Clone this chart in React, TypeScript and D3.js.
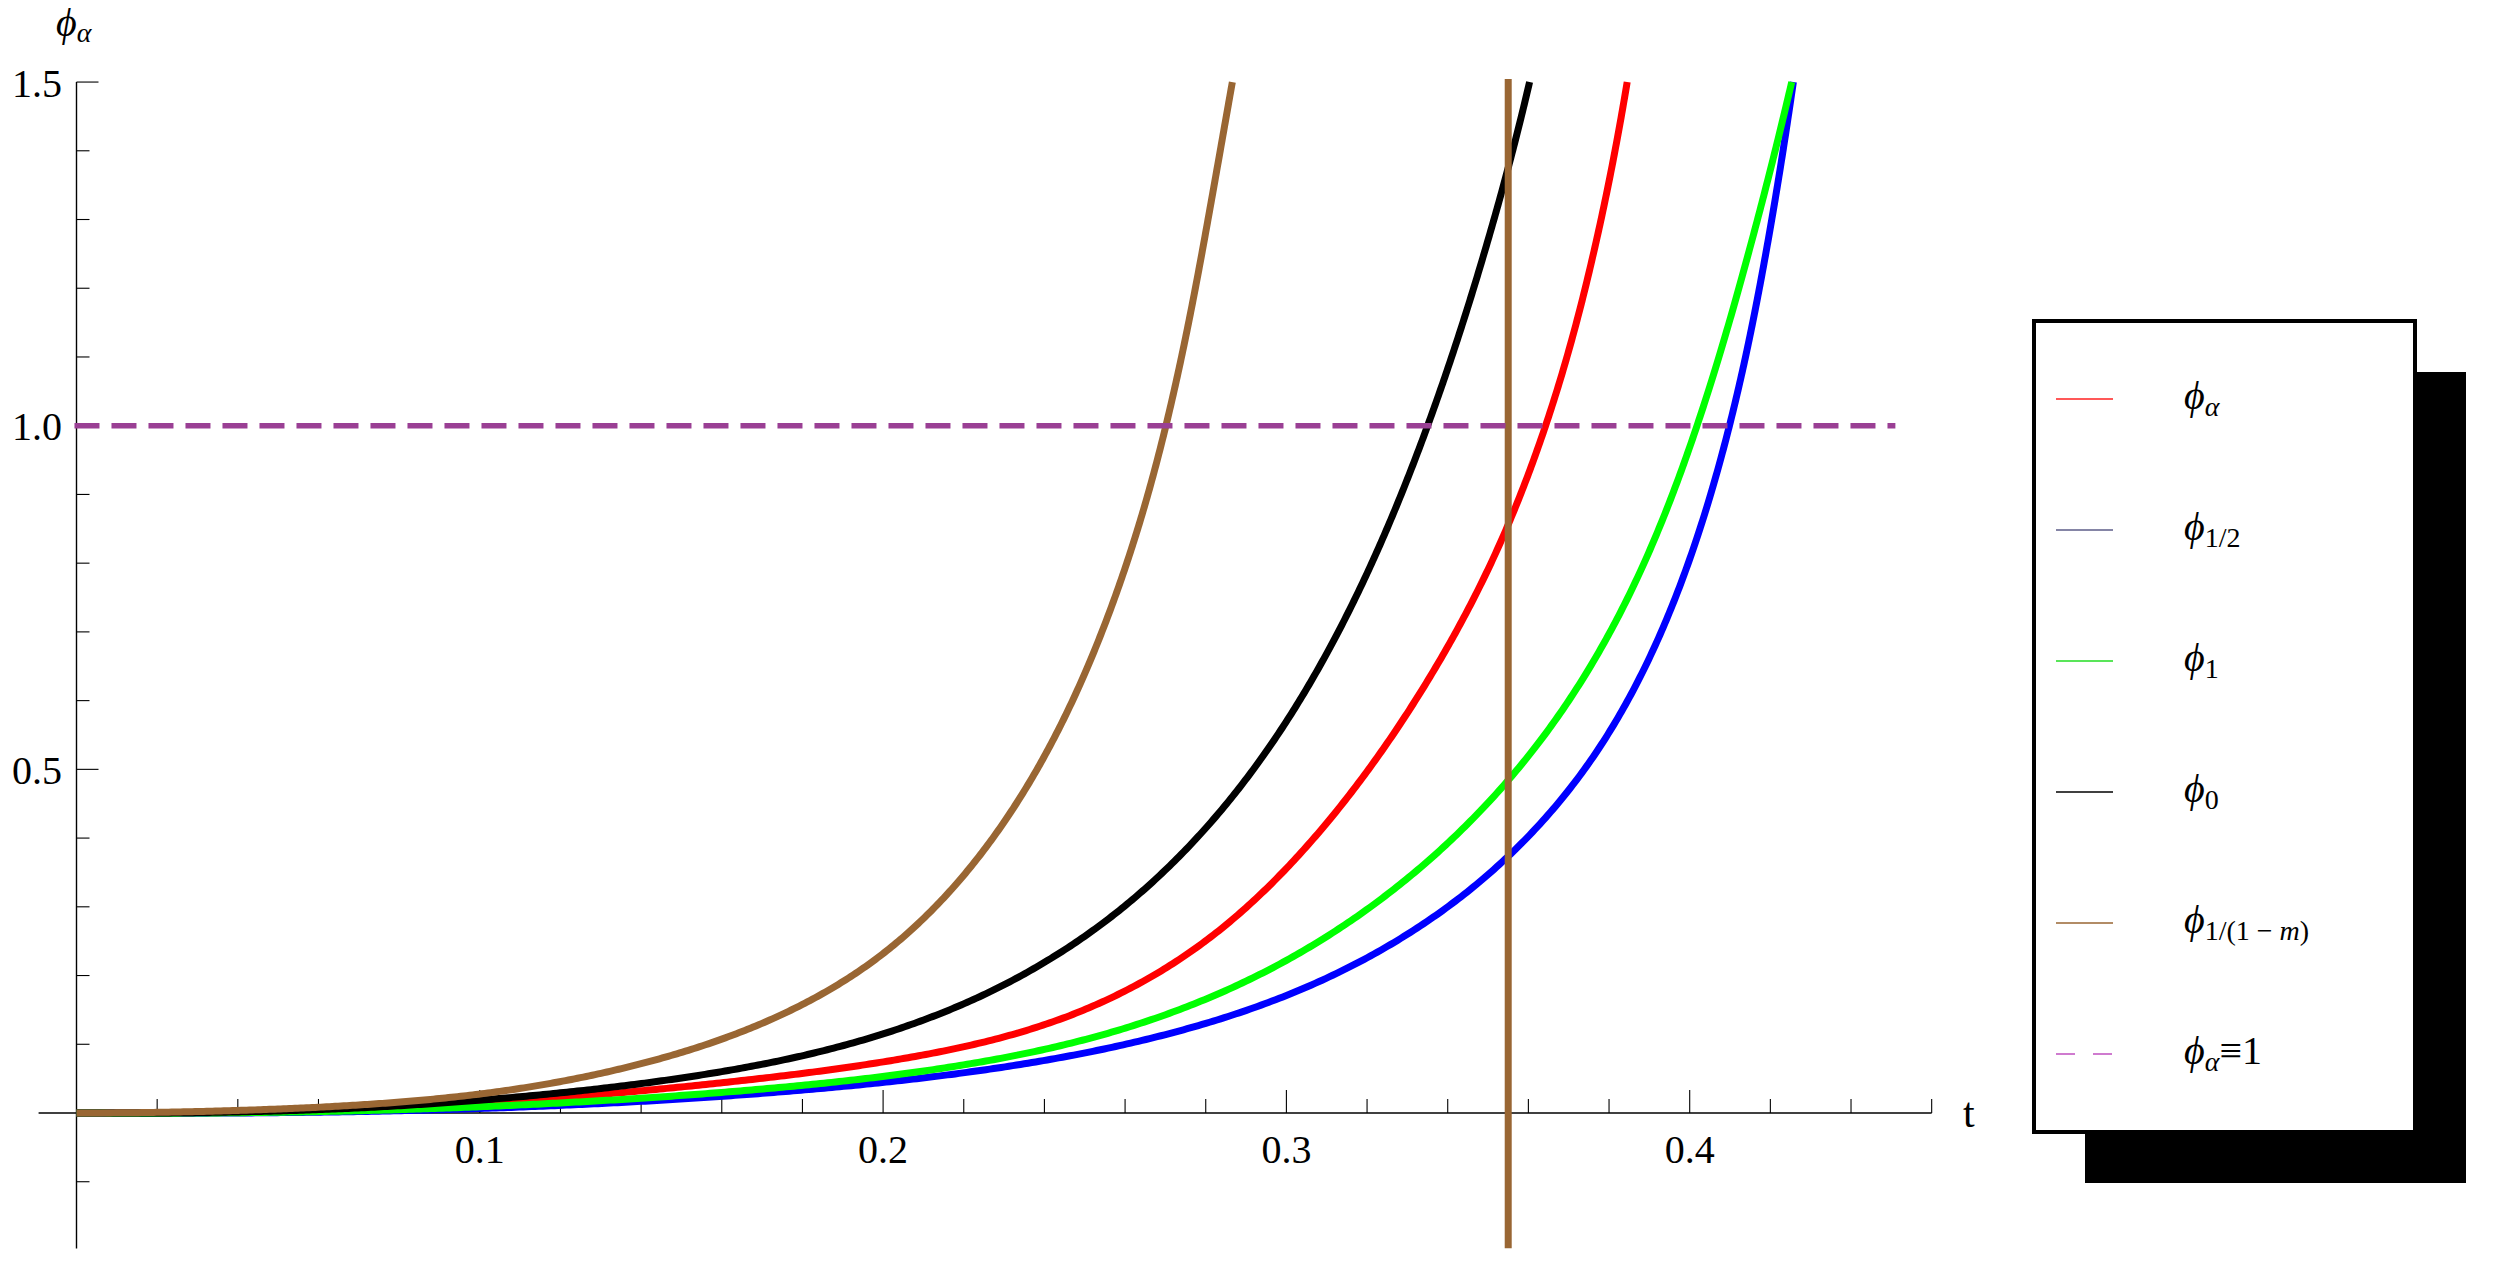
import React from 'react';
import * as d3 from 'd3';

// ---------- data ----------
// each point: [t, phi]
const phiAlphaPts: [number, number][] = [
  [0, 0], [0.02, 0.0003], [0.04, 0.0015], [0.06, 0.003], [0.08, 0.006], [0.105, 0.0165],
  [0.138, 0.031], [0.171, 0.0528], [0.204, 0.0819], [0.234, 0.1183], [0.2506, 0.1474],
  [0.2671, 0.1935], [0.2836, 0.2662], [0.3002, 0.3583], [0.3167, 0.4746], [0.334, 0.625],
  [0.3493, 0.775], [0.3597, 0.9207], [0.3642, 1.0], [0.3679, 1.066], [0.3746, 1.2116],
  [0.3798, 1.357], [0.3845, 1.5],
];
const phiHalfPts: [number, number][] = [
  [0, 0], [0.04, 0.0005], [0.08, 0.003], [0.105, 0.007], [0.138, 0.0165], [0.171, 0.0296],
  [0.204, 0.048], [0.234, 0.0698], [0.2506, 0.0892], [0.2671, 0.111], [0.2836, 0.1377],
  [0.3002, 0.1692], [0.3167, 0.2128], [0.3332, 0.2735], [0.3497, 0.3486], [0.3622, 0.4116],
  [0.3696, 0.46], [0.3786, 0.5377], [0.3878, 0.6395], [0.396, 0.746], [0.4063, 0.9207],
  [0.41, 1.0], [0.4125, 1.066], [0.4175, 1.2116], [0.4218, 1.357], [0.4257, 1.5],
];
const phiOnePts: [number, number][] = [
  [0, 0], [0.04, 0.001], [0.08, 0.004], [0.105, 0.0102], [0.138, 0.0213], [0.171, 0.0359],
  [0.204, 0.0577], [0.234, 0.0863], [0.2506, 0.1062], [0.2671, 0.1353], [0.2836, 0.1741],
  [0.3002, 0.2225], [0.3167, 0.2807], [0.3332, 0.3583], [0.3497, 0.4504], [0.3629, 0.5425],
  [0.3712, 0.6056], [0.379, 0.6832], [0.3855, 0.76], [0.397, 0.9207], [0.4018, 1.0],
  [0.4125, 1.2116], [0.4193, 1.357], [0.4253, 1.5],
];
const phiZeroPts: [number, number][] = [
  [0, 0], [0.02, 0.0005], [0.04, 0.002], [0.06, 0.0045], [0.08, 0.0095], [0.105, 0.021],
  [0.1217, 0.031], [0.138, 0.0426], [0.1548, 0.0556], [0.1713, 0.0725], [0.1878, 0.0944],
  [0.2043, 0.123], [0.2209, 0.1605], [0.2341, 0.1983], [0.2506, 0.2583], [0.2671, 0.3365],
  [0.2836, 0.4384], [0.3002, 0.5721], [0.3177, 0.7574], [0.3351, 1.0], [0.3468, 1.2075],
  [0.3541, 1.357], [0.3603, 1.5],
];
const phiMPts: [number, number][] = [
  [0, 0], [0.02, 0.001], [0.04, 0.004], [0.06, 0.009], [0.08, 0.016], [0.105, 0.0296],
  [0.1217, 0.048], [0.1382, 0.0698], [0.1548, 0.0989], [0.1713, 0.1353], [0.1878, 0.179],
  [0.2043, 0.2468], [0.2209, 0.356], [0.2341, 0.46], [0.2423, 0.5425], [0.2506, 0.649],
  [0.2578, 0.76], [0.2668, 0.9207], [0.2703, 1.0], [0.2727, 1.066], [0.2777, 1.2116],
  [0.2822, 1.357], [0.2866, 1.5],
];
const verticalT = 0.355;
const refLevel = 1.0;

const xMajorTicks = [0.1, 0.2, 0.3, 0.4];
const xTickLabels = ['0.1', '0.2', '0.3', '0.4'];
const yMajorTicks = [0.5, 1.0, 1.5];
const yTickLabels = ['0.5', '1.0', '1.5'];

const colors = {
  alpha: '#ff0000',
  half: '#0000ff',
  one: '#00ff00',
  zero: '#000000',
  m: '#996633',
  dash: '#9a3f94',
};

type Seg = { text: string; italic?: boolean };
const legendItems: { legendColor: string; sub: Seg[]; extra?: string; dashed?: boolean }[] = [
  { legendColor: '#ff2020', sub: [{ text: 'α', italic: true }] },
  { legendColor: '#5c5c88', sub: [{ text: '1/2' }] },
  { legendColor: '#22dd22', sub: [{ text: '1' }] },
  { legendColor: '#000000', sub: [{ text: '0' }] },
  { legendColor: '#996633', sub: [{ text: '1/(1 − ' }, { text: 'm', italic: true }, { text: ')' }] },
  { legendColor: '#c050c0', sub: [{ text: 'α', italic: true }], extra: '≡1', dashed: true },
];

const FONT = '"Liberation Serif", "Times New Roman", Tinos, "DejaVu Serif", serif';

const W = 2495;
const H = 1269;

// Penalised least-squares cubic B-spline through the scaled points (smooth rendering of read values).
function smoothPath(px: [number, number][], K = 16, lambda = 0.1): string {
  const n = px.length;
  const s: number[] = [0];
  for (let i = 1; i < n; i++) s.push(s[i - 1] + Math.hypot(px[i][0] - px[i - 1][0], px[i][1] - px[i - 1][1]));
  const Ltot = s[n - 1];
  const u = s.map((v) => v / Ltot);
  const deg = 3;
  const nInt = K - deg;
  const knots: number[] = [];
  for (let i = 0; i < deg; i++) knots.push(0);
  for (let i = 0; i <= nInt; i++) knots.push(i / nInt);
  for (let i = 0; i < deg; i++) knots.push(1);
  const basisAt = (t: number): number[] => {
    const B = new Array(K).fill(0);
    let span = deg;
    if (t >= 1) span = K - 1;
    else while (span < K - 1 && knots[span + 1] <= t) span++;
    const N: number[] = [1];
    const left: number[] = [];
    const right: number[] = [];
    for (let j = 1; j <= deg; j++) {
      left[j] = t - knots[span + 1 - j];
      right[j] = knots[span + j] - t;
      let saved = 0;
      for (let r = 0; r < j; r++) {
        const temp = N[r] / (right[r + 1] + left[j - r]);
        N[r] = saved + right[r + 1] * temp;
        saved = left[j - r] * temp;
      }
      N[j] = saved;
    }
    for (let j = 0; j <= deg; j++) B[span - deg + j] = N[j];
    return B;
  };
  const M: number[][] = d3.range(K).map(() => new Array(K).fill(0));
  const rx = new Array(K).fill(0);
  const ry = new Array(K).fill(0);
  for (let i = 0; i < n; i++) {
    const w = i === 0 || i === n - 1 ? 500 : 1;
    const B = basisAt(u[i]);
    for (let a = 0; a < K; a++) {
      if (B[a] === 0) continue;
      rx[a] += w * B[a] * px[i][0];
      ry[a] += w * B[a] * px[i][1];
      for (let b = 0; b < K; b++) M[a][b] += w * B[a] * B[b];
    }
  }
  for (let i = 0; i < K - 2; i++) {
    const d = [1, -2, 1];
    for (let a = 0; a < 3; a++) for (let b = 0; b < 3; b++) M[i + a][i + b] += lambda * d[a] * d[b];
  }
  const solve = (A0: number[][], r0: number[]) => {
    const A = A0.map((row) => row.slice());
    const r = r0.slice();
    for (let c = 0; c < K; c++) {
      let p = c;
      for (let i = c + 1; i < K; i++) if (Math.abs(A[i][c]) > Math.abs(A[p][c])) p = i;
      [A[c], A[p]] = [A[p], A[c]];
      [r[c], r[p]] = [r[p], r[c]];
      for (let i = c + 1; i < K; i++) {
        const f = A[i][c] / A[c][c];
        if (f === 0) continue;
        for (let j = c; j < K; j++) A[i][j] -= f * A[c][j];
        r[i] -= f * r[c];
      }
    }
    const xs = new Array(K).fill(0);
    for (let i = K - 1; i >= 0; i--) {
      let acc = r[i];
      for (let j = i + 1; j < K; j++) acc -= A[i][j] * xs[j];
      xs[i] = acc / A[i][i];
    }
    return xs;
  };
  const cx = solve(M, rx);
  const cy = solve(M, ry);
  const out: [number, number][] = [];
  const steps = 600;
  for (let k = 0; k <= steps; k++) {
    const B = basisAt(k / steps);
    let X = 0;
    let Y = 0;
    for (let a = 0; a < K; a++) {
      X += B[a] * cx[a];
      Y += B[a] * cy[a];
    }
    out.push([X, Y]);
  }
  return d3.line()(out) || '';
}

export default function App() {
  const x = d3.scaleLinear().domain([0, 0.46]).range([76.5, 76.5 + 0.46 * 4033]);
  const y = d3.scaleLinear().domain([-0.197, 1.5]).range([1113 + 0.197 * 687.3, 1113 - 1.5 * 687.3]);

  const xMinor = d3.range(1, 24).map((i) => i * 0.02).filter((v) => Math.abs(v * 10 - Math.round(v * 10)) > 1e-6);
  const yMinor = d3.range(-1, 15).map((i) => i / 10).filter((v) => Math.abs(v * 2 - Math.round(v * 2)) > 1e-6);

  const x0 = x(0);
  const yAxis0 = y(0);

  const series: { pts: [number, number][]; color: string }[] = [
    { pts: phiAlphaPts, color: colors.alpha },
    { pts: phiHalfPts, color: colors.half },
    { pts: phiOnePts, color: colors.one },
    { pts: phiZeroPts, color: colors.zero },
    { pts: phiMPts, color: colors.m },
  ];

  const legX = 2034;
  const legY = 321;
  const legW = 381;
  const legH = 811;

  const textStyle = { fontFamily: FONT } as React.CSSProperties;

  const renderSub = (segs: Seg[]) =>
    segs.map((s, i) => (
      <tspan key={i} fontStyle={s.italic ? 'italic' : 'normal'}>
        {s.text}
      </tspan>
    ));

  return (
    <svg
      width={W}
      height={H}
      viewBox={`0 0 ${W} ${H}`}
      style={{ position: 'fixed', left: 0, top: 0, background: '#fff' }}
    >
      <defs>
        <clipPath id="plotClip">
          <rect x={0} y={y(1.5) - 3} width={W} height={y(-0.197) - y(1.5) + 3} />
        </clipPath>
      </defs>
      <rect x={0} y={0} width={W} height={H} fill="#fff" />

      {/* axes */}
      <line x1={x(-0.0094)} x2={x(0.46)} y1={yAxis0} y2={yAxis0} stroke="#000" strokeWidth={1.4} />
      <line x1={x0} x2={x0} y1={y(-0.197)} y2={y(1.5)} stroke="#000" strokeWidth={1.4} />
      {xMajorTicks.map((t) => (
        <line key={'xM' + t} x1={x(t)} x2={x(t)} y1={yAxis0} y2={yAxis0 - 23} stroke="#000" strokeWidth={1.1} />
      ))}
      {xMinor.map((t) => (
        <line key={'xm' + t} x1={x(t)} x2={x(t)} y1={yAxis0} y2={yAxis0 - 14} stroke="#000" strokeWidth={1.1} />
      ))}
      {yMajorTicks.map((v) => (
        <line key={'yM' + v} x1={x0} x2={x0 + 22} y1={y(v)} y2={y(v)} stroke="#000" strokeWidth={1.1} />
      ))}
      {yMinor.map((v) => (
        <line key={'ym' + v} x1={x0} x2={x0 + 13} y1={y(v)} y2={y(v)} stroke="#000" strokeWidth={1.1} />
      ))}
      {xMajorTicks.map((t, i) => (
        <text key={'xl' + t} x={x(t)} y={yAxis0 + 50} textAnchor="middle" style={textStyle} fontSize={40}>
          {xTickLabels[i]}
        </text>
      ))}
      {yMajorTicks.map((v, i) => (
        <text key={'yl' + v} x={62} y={y(v) + 14.5} textAnchor="end" style={textStyle} fontSize={40}>
          {yTickLabels[i]}
        </text>
      ))}
      <text x={1963} y={1127} style={textStyle} fontSize={42}>
        t
      </text>
      <text x={56} y={36} style={textStyle} fontSize={40}>
        <tspan fontStyle="italic">ϕ</tspan>
        <tspan fontStyle="italic" fontSize={28} dy={6}>
          α
        </tspan>
      </text>

      {/* curves */}
      <g clipPath="url(#plotClip)">
        {series.map((s, i) => (
          <path
            key={i}
            d={smoothPath(s.pts.map((d) => [x(d[0]), y(d[1])] as [number, number]))}
            fill="none"
            stroke={s.color}
            strokeWidth={7}
            strokeLinejoin="round"
          />
        ))}
        <line
          x1={x(verticalT)}
          x2={x(verticalT)}
          y1={y(1.5) - 3}
          y2={y(-0.197)}
          stroke={colors.m}
          strokeWidth={7}
        />
        <line
          x1={x(-0.0005)}
          x2={x(0.451)}
          y1={y(refLevel)}
          y2={y(refLevel)}
          stroke={colors.dash}
          strokeWidth={5.5}
          strokeDasharray="25 12"
        />
      </g>

      {/* legend */}
      <rect x={legX + 51} y={legY + 51} width={legW} height={legH} fill="#000" />
      <rect x={legX} y={legY} width={legW} height={legH} fill="#fff" stroke="#000" strokeWidth={4} />
      {legendItems.map((it, i) => {
        const ly = 399 + i * 131;
        return (
          <g key={'lg' + i}>
            <line
              x1={2056}
              x2={2113}
              y1={ly}
              y2={ly}
              stroke={it.legendColor}
              strokeWidth={1.5}
              strokeDasharray={it.dashed ? '19 18' : undefined}
            />
            <text x={2184} y={ly + 10} style={textStyle} fontSize={40}>
              <tspan fontStyle="italic">ϕ</tspan>
              <tspan fontSize={28} dy={7}>
                {renderSub(it.sub)}
              </tspan>
              {it.extra ? <tspan dy={-7}>{it.extra}</tspan> : null}
            </text>
          </g>
        );
      })}
    </svg>
  );
}
